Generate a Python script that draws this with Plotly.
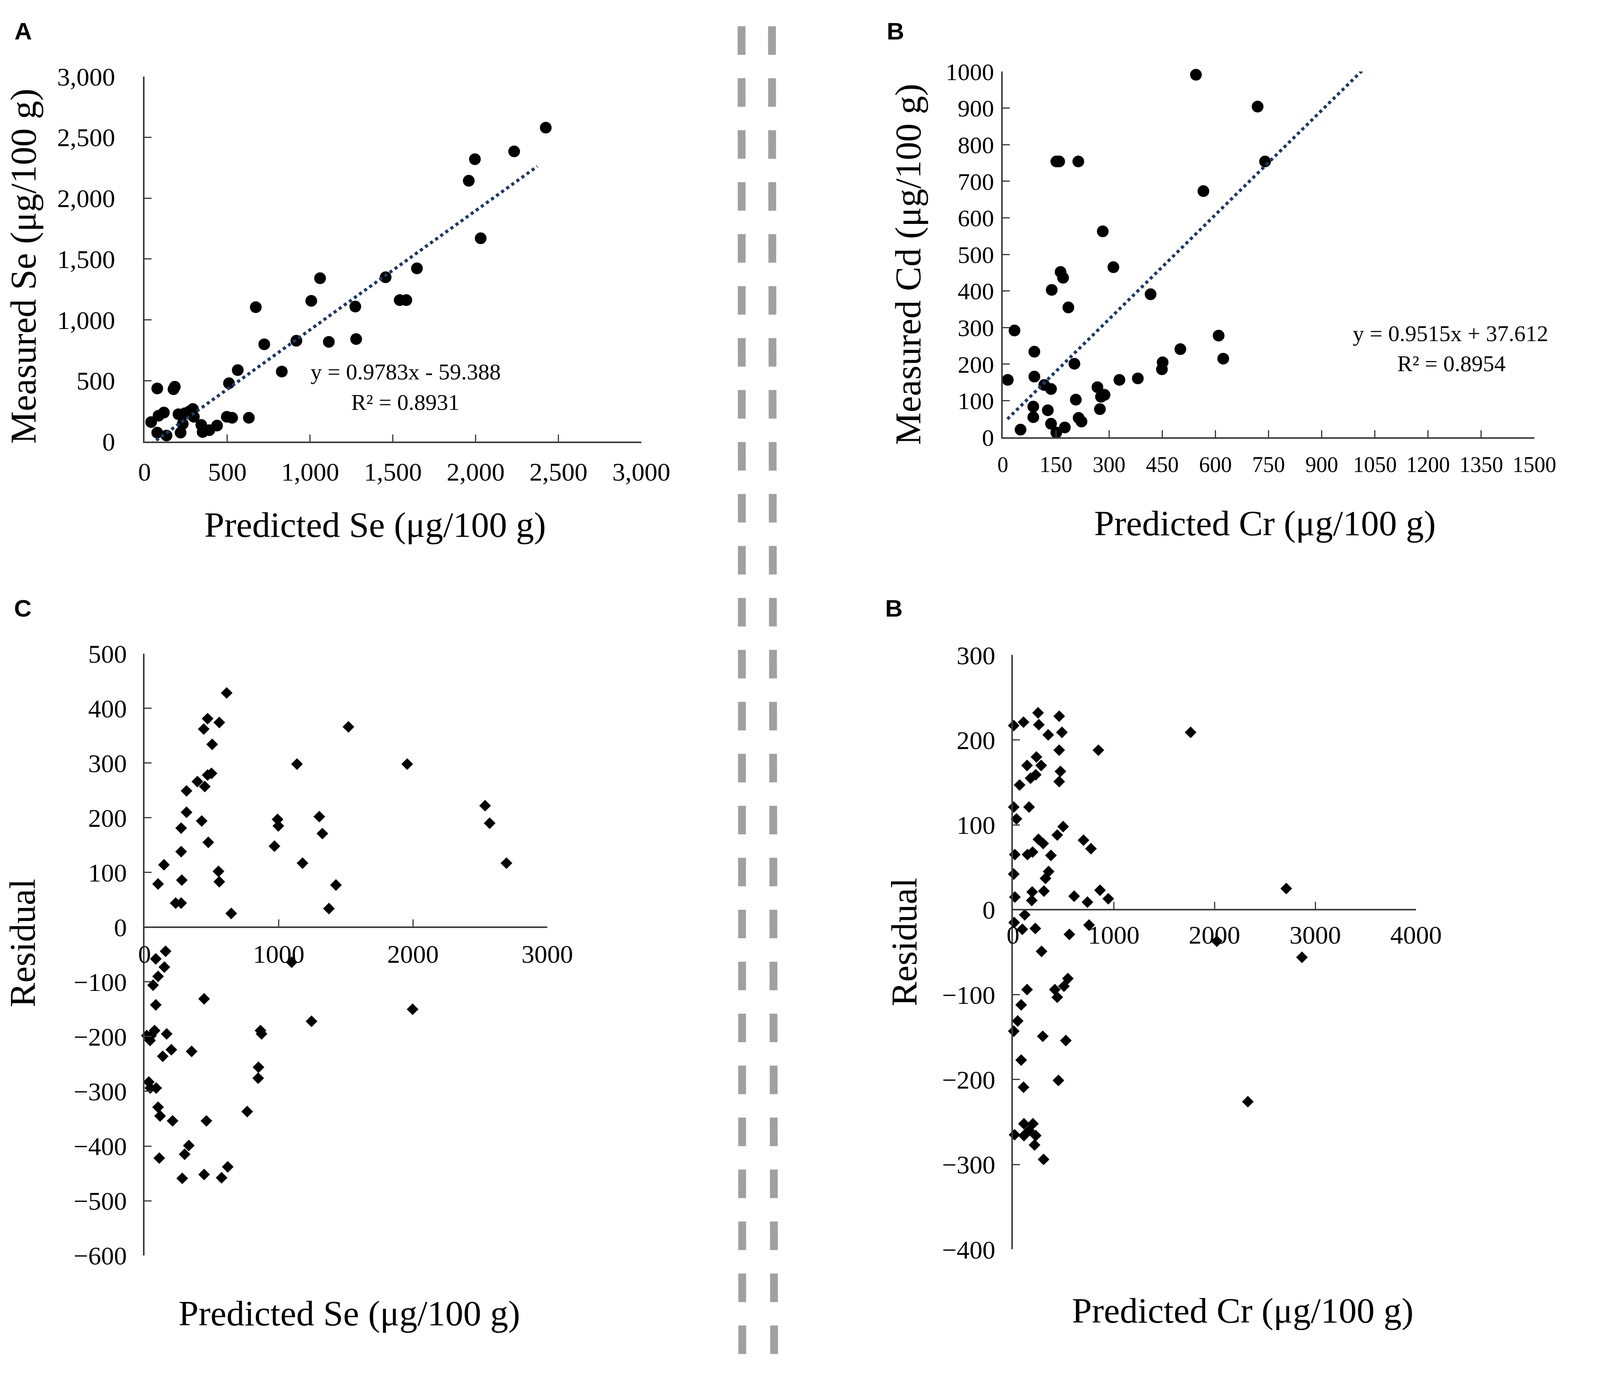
import plotly.graph_objects as go

# reference canvas (used for layout fractions) and rendered size
REF_W, REF_H = 4317, 3542
W, H = 4090, 3542

# ---------------- data ----------------
# Panel A: Predicted vs measured Se
se_pred = [40, 77, 85, 77, 117, 133, 175, 183, 205, 218, 231, 244, 271, 292, 298, 343, 351, 391,
           438, 497, 510, 529, 563, 630, 672, 723, 829, 917, 1007, 1060, 1113, 1273, 1278, 1456,
           1541, 1581, 1645, 1958, 1995, 2030, 2232, 2423]
se_meas = [160, 436, 212, 73, 238, 49, 430, 450, 224, 73, 145, 232, 247, 267, 203, 136, 78, 93,
           131, 203, 479, 195, 587, 195, 1104, 799, 575, 828, 1156, 1342, 819, 1109, 842, 1350,
           1162, 1162, 1423, 2143, 2320, 1670, 2384, 2579]
se_slope, se_intercept = 0.9783, -59.388
se_r2 = 0.8931
se_fit_x = [40, 2372]

# Panel B: Predicted Cr vs measured Cd
cr_pred = [14, 33, 50, 89, 89, 86, 86, 117, 127, 136, 136, 138, 151, 151, 159, 163, 170, 175,
           185, 202, 206, 213, 214, 222, 267, 274, 277, 282, 287, 312, 329, 381, 417, 449, 451,
           501, 545, 566, 609, 622, 719, 740]
cd_meas = [157, 292, 21, 234, 166, 84, 55, 143, 74, 132, 37, 403, 13, 754, 754, 452, 436, 27,
           355, 201, 103, 754, 53, 43, 137, 77, 111, 563, 116, 465, 157, 161, 391, 186, 205,
           241, 991, 673, 278, 215, 904, 754]
cd_slope, cd_intercept = 0.9515, 37.612
cd_r2 = 0.8954
cd_fit_x = [13, 1015]

# Panel C: residuals of Se
se_res_pred = [101, 145, 232, 273, 278, 273, 273, 313, 313, 394, 426, 441, 449, 470, 470, 475,
               499, 504, 557, 551, 557, 612, 646, 968, 991, 997, 1136, 1177, 1302, 1325, 1374,
               1426, 1519, 1957, 2537, 2571, 2696,
               17, 41, 49, 64, 75, 84, 84, 32, 43, 87, 101, 101, 116, 110, 136, 148, 157, 165,
               200, 209, 281, 299, 330, 351, 444, 444, 461, 574, 620, 765, 849, 847, 864, 872,
               1096, 1244, 1997]
se_residual = [79, 114, 44, 44, 86, 138, 181, 210, 249, 266, 194, 362, 257, 381, 278, 155,
               281, 334, 374, 102, 83, 428, 25, 148, 197, 185, 298, 117, 202, 171, 34,
               77, 366, 298, 222, 190, 117,
               -198, -207, -198, -106, -189, -58, -142, -283, -294, -294, -90, -329, -345, -422,
               -236, -73, -44, -195, -224, -354, -459, -415, -399, -227, -131, -452, -354, -458,
               -438, -337, -256, -276, -189, -195, -64, -172, -150]

# Panel D: residuals of Cr
cr_res_pred = [8, 105, 249, 257, 459, 350, 486, 459, 848, 1763, 233, 140, 280, 226, 175, 471,
               459, 66, 160, 8, 35, 498, 440, 253, 300, 700, 774, 19, 144, 195, 377, 354, 323,
               8, 191, 307, 187, 19, 607, 739, 864, 946, 2712,
               12, 117, 93, 222, 560, 755, 2023, 284, 2868, 545, 506, 416, 440, 140, 82, 47, 8,
               296, 525, 82, 451, 105, 2331, 16, 109, 109, 198, 226, 160, 214, 304]
cr_residual = [217, 221, 232, 218, 228, 206, 209, 188, 188, 209, 180, 170, 170, 159, 155, 163,
               151, 147, 121, 121, 107, 98, 88, 83, 78, 82, 72, 65, 65, 68, 64, 45, 37,
               42, 21, 22, 11, 15, 16, 9, 23, 13, 25,
               -15, -6, -23, -22, -29, -18, -37, -49, -56, -81, -90, -94, -103, -94, -112, -131,
               -143, -149, -154, -177, -201, -209, -226, -265, -252, -266, -252, -266, -260,
               -277, -294]

# axis settings
se_range = [0, 3000]; se_dtick = 500
cd_yrange = [0, 1000]; cd_ydtick = 100
cr_xrange = [0, 1500]; cr_xdtick = 150
c_xrange = [0, 3000]; c_xdtick = 1000
c_yrange = [-600, 500]; c_ydtick = 100
d_xrange = [0, 4000]; d_xdtick = 1000
d_yrange = [-400, 300]; d_ydtick = 100

# ---------------- layout helpers ----------------
def dx(a, b):
    return [a / REF_W, b / REF_W]

def dy(top, bottom):
    return [1 - bottom / REF_H, 1 - top / REF_H]

SERIF = "Liberation Serif"
AX_COLOR = "#3c3c3c"

def axis(**kw):
    base = dict(showline=True, linecolor=AX_COLOR, linewidth=4, ticks="inside", ticklen=18,
                tickwidth=3, tickcolor=AX_COLOR, showgrid=False, zeroline=False,
                tickfont=dict(family=SERIF, size=66, color="black"), fixedrange=True)
    base.update(kw)
    return base

fig = go.Figure()

TREND = dict(color="#1f3864", width=8, dash="8px,8px")

# Panel A
fig.add_trace(go.Scatter(x=se_pred, y=se_meas, mode="markers", xaxis="x", yaxis="y",
                         marker=dict(symbol="circle", size=30, color="black"),
                         cliponaxis=False, showlegend=False))
fig.add_trace(go.Scatter(x=se_fit_x, y=[se_slope * v + se_intercept for v in se_fit_x],
                         mode="lines", xaxis="x", yaxis="y", line=TREND, showlegend=False))
# Panel B
fig.add_trace(go.Scatter(x=cr_pred, y=cd_meas, mode="markers", xaxis="x2", yaxis="y2",
                         marker=dict(symbol="circle", size=30, color="black"),
                         cliponaxis=False, showlegend=False))
fig.add_trace(go.Scatter(x=cd_fit_x, y=[cd_slope * v + cd_intercept for v in cd_fit_x],
                         mode="lines", xaxis="x2", yaxis="y2", line=TREND, showlegend=False))
# Panel C
fig.add_trace(go.Scatter(x=se_res_pred, y=se_residual, mode="markers", xaxis="x3", yaxis="y3",
                         marker=dict(symbol="diamond", size=23, color="black"),
                         cliponaxis=False, showlegend=False))
# Panel D
fig.add_trace(go.Scatter(x=cr_res_pred, y=cr_residual, mode="markers", xaxis="x4", yaxis="y4",
                         marker=dict(symbol="diamond", size=23, color="black"),
                         cliponaxis=False, showlegend=False))

domA_x, domA_y = dx(381, 1754), dy(163, 1117)
domB_x, domB_y = dx(2753, 4222), dy(150, 1106)
domC_x, domC_y = dx(381, 1494), dy(1671, 3244)
domD_x, domD_y = dx(2781, 3895), dy(1675, 3228)

def zero_pos(dom, rng):
    return dom[0] + (0 - rng[0]) / (rng[1] - rng[0]) * (dom[1] - dom[0])

fig.update_layout(
    width=W, height=H, autosize=False,
    margin=dict(l=0, r=0, t=0, b=0),
    paper_bgcolor="white", plot_bgcolor="white",
    xaxis=axis(domain=domA_x, anchor="y", range=se_range, dtick=se_dtick, tick0=0,
               separatethousands=True, ticklabelstandoff=17),
    yaxis=axis(domain=domA_y, anchor="x", range=se_range, dtick=se_dtick, tick0=0,
               separatethousands=True, ticklabelstandoff=58),
    xaxis2=axis(domain=domB_x, anchor="y2", range=cr_xrange, dtick=cr_xdtick, tick0=0,
                ticklabelstandoff=18, tickfont=dict(family=SERIF, size=56, color="black")),
    yaxis2=axis(domain=domB_y, anchor="x2", range=cd_yrange, dtick=cd_ydtick, tick0=0,
                ticklabelstandoff=6, tickfont=dict(family=SERIF, size=62, color="black")),
    xaxis3=axis(domain=domC_x, anchor="free", position=zero_pos(domC_y, c_yrange),
                range=c_xrange, dtick=c_xdtick, tick0=0, ticklabelstandoff=10),
    yaxis3=axis(domain=domC_y, anchor="x3", range=c_yrange, dtick=c_ydtick, tick0=0,
                ticklabelstandoff=28),
    xaxis4=axis(domain=domD_x, anchor="free", position=zero_pos(domD_y, d_yrange),
                range=d_xrange, dtick=d_xdtick, tick0=0, ticklabelstandoff=5),
    yaxis4=axis(domain=domD_y, anchor="x4", range=d_yrange, dtick=d_ydtick, tick0=0,
                ticklabelstandoff=28),
)

def ann(text, x, y, size, family=SERIF, angle=0, bold=False):
    t = f"<b>{text}</b>" if bold else text
    fig.add_annotation(text=t, x=x / REF_W, y=1 - y / REF_H, xref="paper", yref="paper",
                       xanchor="center", yanchor="middle", showarrow=False, textangle=angle,
                       font=dict(family=family, size=size, color="black"))

# panel letters
ann("A", 46, 44, 62, family="Liberation Sans", bold=True)
ann("B", 2456, 44, 62, family="Liberation Sans", bold=True)
ann("C", 45, 1552, 62, family="Liberation Sans", bold=True)
ann("B", 2452, 1553, 62, family="Liberation Sans", bold=True)

# axis titles
ann("Measured Se (μg/100 g)", 46, 659, 94, angle=-90)
ann("Predicted Se (μg/100 g)", 1018, 1335, 92)
ann("Measured Cd (μg/100 g)", 2490, 654, 94, angle=-90)
ann("Predicted Cr (μg/100 g)", 3478, 1330, 92)
ann("Residual", 43, 2427, 94, angle=-90)
ann("Predicted Se (μg/100 g)", 947, 3395, 92)
ann("Residual", 2480, 2425, 94, angle=-90)
ann("Predicted Cr (μg/100 g)", 3416, 3388, 92)

# equations
ann(f"y = {se_slope}x - {abs(se_intercept)}", 1103, 935, 58)
ann(f"R² = {se_r2}", 1102, 1014, 58)
ann(f"y = {cd_slope}x + {cd_intercept}", 3990, 835, 58)
ann(f"R² = {cd_r2}", 3993, 913, 58)

# dashed separators
for x_top, x_bot in [(2031, 2033), (2115, 2121)]:
    fig.add_shape(type="line", xref="paper", yref="paper",
                  x0=x_top / REF_W, y0=1 - 32 / REF_H, x1=x_bot / REF_W, y1=0,
                  line=dict(color="#a0a0a0", width=20, dash="73px,60px"))

fig.write_html("out.html",
               config={"displayModeBar": False, "staticPlot": True},
               post_script="document.body.style.margin='0';"
                           "document.body.style.overflow='hidden';")
